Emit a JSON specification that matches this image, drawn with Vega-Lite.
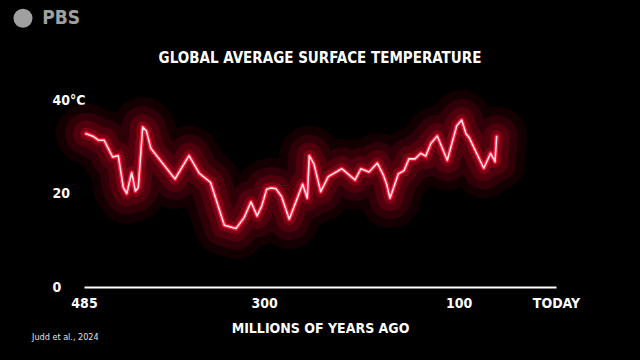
{
  "$schema": "https://vega.github.io/schema/vega-lite/v6.json",
  "width": 472,
  "height": 187,
  "autosize": {"type": "none"},
  "padding": {"left": 84, "top": 100, "right": 84, "bottom": 73},
  "background": "#000000",
  "title": {
    "text": "GLOBAL AVERAGE SURFACE TEMPERATURE",
    "color": "#ffffff",
    "font": "DejaVu Sans Condensed, Liberation Sans Narrow, sans-serif",
    "fontSize": 15,
    "fontWeight": "bold",
    "anchor": "middle",
    "frame": "group",
    "baseline": "middle",
    "offset": 0,
    "dy": 64
  },
  "datasets": {
    "temp": [
      {"ago": 482.9, "temp": 32.8},
      {"ago": 475.4, "temp": 32.2},
      {"ago": 470.3, "temp": 31.4},
      {"ago": 464.4, "temp": 31.4},
      {"ago": 455.5, "temp": 27.8},
      {"ago": 449.8, "temp": 28.1},
      {"ago": 444.6, "temp": 21.3},
      {"ago": 441.1, "temp": 20.0},
      {"ago": 436.0, "temp": 24.5},
      {"ago": 432.2, "temp": 20.5},
      {"ago": 429.2, "temp": 21.3},
      {"ago": 424.7, "temp": 34.2},
      {"ago": 420.9, "temp": 33.4},
      {"ago": 416.2, "temp": 29.6},
      {"ago": 391.5, "temp": 23.1},
      {"ago": 377.1, "temp": 28.1},
      {"ago": 366.5, "temp": 24.3},
      {"ago": 355.0, "temp": 22.4},
      {"ago": 340.8, "temp": 13.2},
      {"ago": 328.8, "temp": 12.5},
      {"ago": 320.6, "temp": 14.8},
      {"ago": 313.4, "temp": 18.2},
      {"ago": 307.2, "temp": 15.2},
      {"ago": 302.4, "temp": 17.3},
      {"ago": 297.3, "temp": 20.9},
      {"ago": 292.9, "temp": 21.2},
      {"ago": 287.7, "temp": 21.0},
      {"ago": 281.9, "temp": 19.3},
      {"ago": 274.1, "temp": 14.5},
      {"ago": 260.3, "temp": 22.0},
      {"ago": 255.6, "temp": 19.0},
      {"ago": 253.5, "temp": 28.1},
      {"ago": 248.7, "temp": 26.3},
      {"ago": 241.8, "temp": 20.4},
      {"ago": 234.0, "temp": 23.6},
      {"ago": 220.2, "temp": 25.3},
      {"ago": 206.5, "temp": 22.9},
      {"ago": 200.4, "temp": 25.3},
      {"ago": 192.2, "temp": 24.6},
      {"ago": 183.6, "temp": 26.5},
      {"ago": 177.5, "temp": 24.0},
      {"ago": 174.0, "temp": 22.0},
      {"ago": 170.6, "temp": 19.0},
      {"ago": 162.0, "temp": 24.2},
      {"ago": 156.2, "temp": 24.9},
      {"ago": 151.1, "temp": 27.4},
      {"ago": 144.9, "temp": 27.4},
      {"ago": 139.0, "temp": 28.6},
      {"ago": 133.9, "temp": 28.0},
      {"ago": 128.6, "temp": 30.7},
      {"ago": 122.0, "temp": 32.3},
      {"ago": 111.7, "temp": 27.1},
      {"ago": 102.0, "temp": 34.5},
      {"ago": 96.9, "temp": 35.7},
      {"ago": 92.5, "temp": 32.8},
      {"ago": 89.1, "temp": 31.9},
      {"ago": 74.2, "temp": 25.4},
      {"ago": 67.2, "temp": 28.6},
      {"ago": 62.7, "temp": 26.8},
      {"ago": 61.0, "temp": 32.2}
    ],
    "credit": [
      {"ago": 538.4, "temp": -10.7, "label": "Judd et al., 2024"}
    ],
    "logoCircle": [
      {"ago": 547.7, "temp": 57.5}
    ],
    "logoText": [
      {"ago": 528.0, "temp": 57.5, "label": "PBS"}
    ]
  },
  "encoding": {
    "x": {
      "field": "ago",
      "type": "quantitative",
      "scale": {"domain": [485, 0], "nice": false, "zero": false},
      "axis": {
        "values": [485, 300, 100, 0],
        "labelExpr": "datum.value == 0 ? 'TODAY' : datum.label",
        "domain": true,
        "domainColor": "#ffffff",
        "domainWidth": 2,
        "ticks": false,
        "grid": false,
        "labelColor": "#ffffff",
        "labelFont": "DejaVu Sans Condensed, Liberation Sans Narrow, sans-serif",
        "labelFontSize": 14,
        "labelFontWeight": "bold",
        "labelPadding": 9,
        "labelFlush": false,
        "labelOverlap": false,
        "title": "MILLIONS OF YEARS AGO",
        "titleColor": "#ffffff",
        "titleFont": "DejaVu Sans Condensed, Liberation Sans Narrow, sans-serif",
        "titleFontSize": 14,
        "titleFontWeight": "bold",
        "titlePadding": 11
      }
    },
    "y": {
      "field": "temp",
      "type": "quantitative",
      "scale": {"domain": [0, 40], "nice": false, "zero": false},
      "axis": {
        "values": [0, 20, 40],
        "labelExpr": "datum.value == 40 ? '40°C' : datum.label",
        "domain": false,
        "ticks": false,
        "grid": false,
        "labelAlign": "left",
        "labelBaseline": "middle",
        "labelPadding": 32,
        "labelColor": "#ffffff",
        "labelFont": "DejaVu Sans Condensed, Liberation Sans Narrow, sans-serif",
        "labelFontSize": 14,
        "labelFontWeight": "bold",
        "labelOverlap": false,
        "title": null
      }
    }
  },
  "layer": [
    {"data": {"name": "temp"}, "mark": {"type": "line", "color": "#3a0008", "strokeWidth": 60, "opacity": 0.35, "strokeJoin": "round", "strokeCap": "round"}},
    {"data": {"name": "temp"}, "mark": {"type": "line", "color": "#58000e", "strokeWidth": 42, "opacity": 0.4, "strokeJoin": "round", "strokeCap": "round"}},
    {"data": {"name": "temp"}, "mark": {"type": "line", "color": "#800014", "strokeWidth": 26, "opacity": 0.4, "strokeJoin": "round", "strokeCap": "round"}},
    {"data": {"name": "temp"}, "mark": {"type": "line", "color": "#b0001c", "strokeWidth": 12, "opacity": 0.45, "strokeJoin": "round", "strokeCap": "round"}},
    {"data": {"name": "temp"}, "mark": {"type": "line", "color": "#ff1a3d", "strokeWidth": 4.5, "opacity": 0.85, "strokeJoin": "round", "strokeCap": "round"}},
    {"data": {"name": "temp"}, "mark": {"type": "line", "color": "#ffe3e8", "strokeWidth": 1.6, "strokeJoin": "round", "strokeCap": "round"}},
    {"data": {"name": "credit"}, "mark": {"type": "text", "align": "left", "baseline": "middle", "color": "#e0e0e0", "fontSize": 9, "font": "DejaVu Sans Condensed, Liberation Sans Narrow, sans-serif"}, "encoding": {"text": {"field": "label"}}},
    {"data": {"name": "logoCircle"}, "mark": {"type": "point", "shape": "circle", "filled": true, "size": 361, "color": "#a0a0a0", "opacity": 1}},
    {"data": {"name": "logoText"}, "mark": {"type": "text", "align": "left", "baseline": "middle", "color": "#a0a0a0", "fontSize": 19, "fontWeight": "bold", "font": "DejaVu Sans Condensed, Liberation Sans Narrow, sans-serif"}, "encoding": {"text": {"field": "label"}}}
  ],
  "config": {
    "view": {"stroke": null}
  }
}
